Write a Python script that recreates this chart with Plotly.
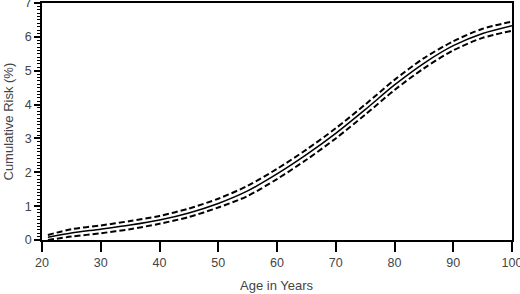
import plotly.graph_objects as go

ages = [21, 25, 30, 35, 40, 45, 50, 55, 60, 65, 70, 75, 80, 85, 90, 95, 100]
risk_mid = [0.08, 0.21, 0.32, 0.44, 0.59, 0.80, 1.08, 1.45, 1.95, 2.52, 3.15, 3.85, 4.58, 5.22, 5.74, 6.10, 6.33]
risk_upper = [0.15, 0.32, 0.43, 0.56, 0.71, 0.93, 1.22, 1.60, 2.10, 2.67, 3.30, 4.00, 4.73, 5.37, 5.87, 6.24, 6.45]
risk_lower = [0.00, 0.10, 0.20, 0.32, 0.48, 0.68, 0.96, 1.30, 1.80, 2.37, 3.00, 3.70, 4.43, 5.07, 5.60, 5.97, 6.18]

x_ticks = [20, 30, 40, 50, 60, 70, 80, 90, 100]
y_ticks = [0, 1, 2, 3, 4, 5, 6, 7]

fig = go.Figure()
fig.add_trace(go.Scatter(x=ages, y=risk_upper, mode="lines",
                         line=dict(color="black", width=2, dash="6px,3px", shape="spline", smoothing=0.8),
                         showlegend=False))
fig.add_trace(go.Scatter(x=ages, y=risk_lower, mode="lines",
                         line=dict(color="black", width=2, dash="6px,3px", shape="spline", smoothing=0.8),
                         showlegend=False))
fig.add_trace(go.Scatter(x=ages, y=risk_mid, mode="lines",
                         line=dict(color="black", width=1.5, shape="spline", smoothing=0.8),
                         showlegend=False))

font = dict(family="Liberation Sans, Arial, sans-serif", size=12.5, color="#444444")
title_font = dict(family="Liberation Sans, Arial, sans-serif", size=13, color="#444444")

fig.update_layout(
    width=520, height=294,
    margin=dict(l=42, r=8, t=3, b=54),
    paper_bgcolor="white", plot_bgcolor="white",
    font=font,
    xaxis=dict(range=[20, 100], tickvals=x_ticks, ticks="outside", ticklen=10,
               tickwidth=1.5, tickcolor="black", showline=True, linecolor="black",
               linewidth=1.5, mirror=True, showgrid=False, zeroline=False,
               automargin=False, ticklabeloverflow="allow", tickfont=font),
    yaxis=dict(range=[0, 7], tickvals=y_ticks, ticks="outside", ticklen=6,
               tickwidth=1.5, tickcolor="black", showline=True, linecolor="black",
               linewidth=1.5, mirror=True, showgrid=False, zeroline=False,
               automargin=False, ticklabeloverflow="allow", tickfont=font,
               minor=dict(dtick=0.1, ticks="outside", ticklen=3, tickwidth=1,
                          tickcolor="black", showgrid=False)),
    annotations=[
        dict(text="Age in Years", xref="paper", yref="paper", x=0.5, y=0,
             yshift=-45, xanchor="center", yanchor="middle", showarrow=False,
             font=title_font),
        dict(text="Cumulative Risk (%)", xref="paper", yref="paper", x=0, y=0.5,
             xshift=-34, xanchor="center", yanchor="middle", showarrow=False,
             textangle=-90, font=title_font),
    ],
)

fig.write_html("out.html", config={"displayModeBar": False},
               post_script="document.body.style.margin='0px';document.body.style.overflow='hidden';")
